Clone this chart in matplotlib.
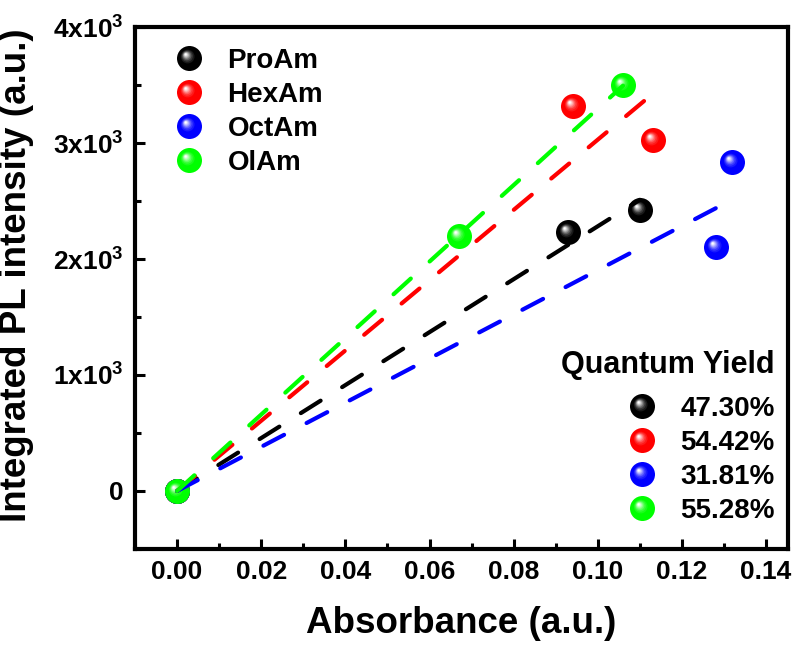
import numpy as np
import matplotlib
matplotlib.use("Agg")
import matplotlib.pyplot as plt
from matplotlib.path import Path
from matplotlib.lines import Line2D
from matplotlib.legend_handler import HandlerTuple
from matplotlib.ticker import MultipleLocator, FixedLocator, FixedFormatter
import matplotlib.colors as mcolors

plt.rcParams['font.family'] = ['Liberation Sans', 'DejaVu Sans']
plt.rcParams['font.weight'] = 'bold'
plt.rcParams['mathtext.fontset'] = 'custom'
plt.rcParams['mathtext.rm'] = 'Liberation Sans:bold'
plt.rcParams['mathtext.bf'] = 'Liberation Sans:bold'
plt.rcParams['mathtext.default'] = 'bf'

# ---- data ----
names = ["ProAm", "HexAm", "OctAm", "OlAm"]
colors = ["#000000", "#ff0000", "#0000ff", "#00ff00"]
qy_title = "Quantum Yield"
qy_labels = ["47.30%", "54.42%", "31.81%", "55.28%"]

pro_x = [0.0, 0.093, 0.110]
pro_y = [0.0, 2230, 2420]
hex_x = [0.0, 0.094, 0.113]
hex_y = [0.0, 3320, 3030]
oct_x = [0.0, 0.128, 0.132]
oct_y = [0.0, 2100, 2840]
ola_x = [0.0, 0.067, 0.106]
ola_y = [0.0, 2200, 3500]

xs = [pro_x, hex_x, oct_x, ola_x]
ys = [pro_y, hex_y, oct_y, ola_y]

ytick_vals = [0, 1000, 2000, 3000, 4000]
ytick_labels = ["0", r"1x10$^{3}$", r"2x10$^{3}$", r"3x10$^{3}$", r"4x10$^{3}$"]
xtick_vals = [0.00, 0.02, 0.04, 0.06, 0.08, 0.10, 0.12, 0.14]
xtick_labels = ["0.00", "0.02", "0.04", "0.06", "0.08", "0.10", "0.12", "0.14"]


def offset_circle(cx, cy, r):
    c = Path.circle((cx, cy), r)
    verts = np.concatenate([c.vertices, [[-1.0, -1.0], [1.0, 1.0]]])
    codes = np.concatenate([c.codes, [Path.MOVETO, Path.MOVETO]])
    return Path(verts, codes)


def blend(c, f):
    rgb = np.array(mcolors.to_rgb(c))
    return tuple(rgb + (1 - rgb) * f)


LAYERS = [(0.55, 0.10), (0.45, 0.22), (0.36, 0.38), (0.28, 0.55),
          (0.21, 0.72), (0.14, 0.88), (0.08, 1.0)]
HX, HY = -0.30, 0.32
MS = 18


def layer_center(r):
    return HX * (1 - r) / 0.92, HY * (1 - r) / 0.92


def sphere_handles(color):
    hs = [Line2D([], [], ls='none', marker='o', ms=MS, mfc=color, mec=color, mew=0)]
    for r, f in LAYERS:
        cx, cy = layer_center(r)
        hs.append(Line2D([], [], ls='none', marker=offset_circle(cx, cy, r), ms=MS,
                         mfc=blend(color, f), mec='none', mew=0))
    return tuple(hs)


def draw_spheres(ax, x, y, color, z):
    ax.plot(x, y, ls='none', marker='o', ms=MS, mfc=color, mec=color, mew=0, zorder=z, clip_on=False)
    for r, f in LAYERS:
        cx, cy = layer_center(r)
        ax.plot(x, y, ls='none', marker=offset_circle(cx, cy, r), ms=MS,
                mfc=blend(color, f), mec='none', mew=0, zorder=z, clip_on=False)


fig = plt.figure(figsize=(7.97, 6.48), dpi=100)
ax = fig.add_axes([0.1694, 0.1528, 0.8193, 0.8055])

for i, (x, y, c) in enumerate(zip(xs, ys, colors)):
    draw_spheres(ax, x, y, c, 3 + i * 0.01)

line_order = [0, 1, 3, 2]
for i in line_order:
    x = np.array(xs[i]); y = np.array(ys[i])
    slope = np.sum(x * y) / np.sum(x * x)
    xf = np.array([0.0, x.max()])
    ax.plot(xf, slope * xf, color=colors[i], lw=3.0, ls=(0, (5.6, 6.1)),
            dash_capstyle='round', zorder=4 + i * 0.01)

ax.set_xlim(-0.01, 0.1452)
ax.set_ylim(-500, 4000)

ax.xaxis.set_major_locator(FixedLocator(xtick_vals))
ax.xaxis.set_major_formatter(FixedFormatter(xtick_labels))
ax.xaxis.set_minor_locator(MultipleLocator(0.01))
ax.yaxis.set_major_locator(FixedLocator(ytick_vals))
ax.yaxis.set_major_formatter(FixedFormatter(ytick_labels))
ax.yaxis.set_minor_locator(MultipleLocator(500))

ax.tick_params(which='both', direction='in', top=False, right=False, width=2.2,
               labelsize=19, colors='black')
ax.tick_params(which='major', length=7.5, pad=8)
ax.tick_params(which='minor', length=4)
for sp in ax.spines.values():
    sp.set_linewidth(3.0)

ax.set_xlabel("Absorbance (a.u.)", fontsize=26.5, fontweight='bold', labelpad=16)
ax.set_ylabel("Integrated PL intensity (a.u.)", fontsize=26.5, fontweight='bold', labelpad=4)
ax.yaxis.set_label_coords(-0.1545, 0.525)

handles = [sphere_handles(c) for c in colors]
hmap = {tuple: HandlerTuple(ndivide=1, pad=0)}
leg1 = ax.legend(handles, names, loc='upper left', bbox_to_anchor=(0.061, 0.9607),
                 frameon=False, handlelength=1.0, handletextpad=0.9,
                 labelspacing=0.29, borderpad=0, borderaxespad=0,
                 handler_map=hmap, prop={'weight': 'bold', 'size': 20})
ax.add_artist(leg1)

leg2 = ax.legend(handles, qy_labels, loc='upper right', bbox_to_anchor=(0.98, 0.294),
                 frameon=False, handlelength=1.0, handletextpad=0.9,
                 labelspacing=0.29, borderpad=0, borderaxespad=0,
                 handler_map=hmap, prop={'weight': 'bold', 'size': 20})

ax.text(0.98, 0.3525, qy_title, transform=ax.transAxes, ha='right', va='center',
        fontsize=22, fontweight='bold')

fig.savefig("out.png", dpi=100)
